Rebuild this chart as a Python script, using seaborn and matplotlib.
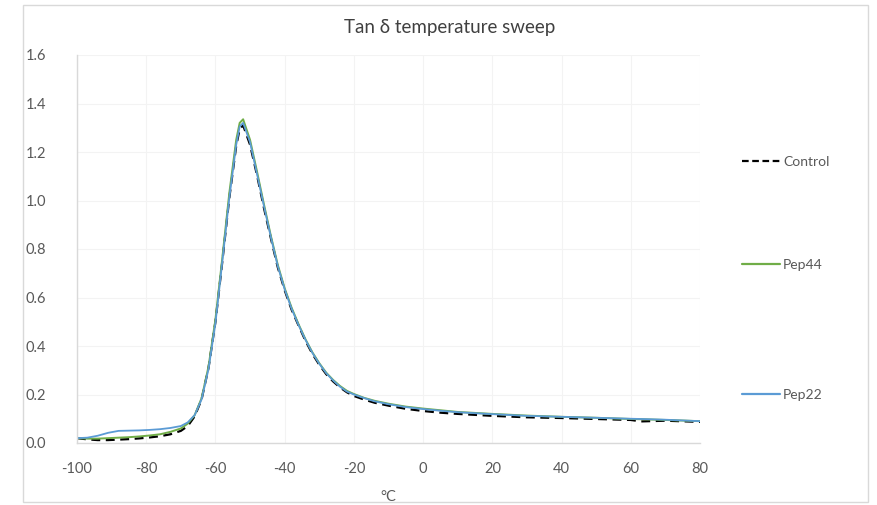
import numpy as np
import pandas as pd
import matplotlib
matplotlib.use("Agg")
import matplotlib.pyplot as plt
from matplotlib.lines import Line2D
from matplotlib.patches import Rectangle
import seaborn as sns

temperature = [-100, -97, -94, -91, -88, -85, -82, -79, -76, -73, -70, -68, -66, -64, -62,
               -60, -58, -56, -54, -53, -52, -50, -48, -46, -44, -42, -40, -38, -36, -34,
               -32, -30, -28, -26, -24, -22, -20, -17, -14, -10, -5, 0, 5, 10, 20, 30,
               40, 50, 60, 63, 70, 80]
control = [0.020, 0.015, 0.012, 0.012, 0.014, 0.016, 0.019, 0.023, 0.028, 0.036, 0.050,
           0.070, 0.110, 0.180, 0.310, 0.500, 0.750, 1.010, 1.225, 1.295, 1.310, 1.230,
           1.105, 0.970, 0.845, 0.725, 0.630, 0.550, 0.485, 0.422, 0.368, 0.323, 0.284,
           0.254, 0.229, 0.209, 0.194, 0.179, 0.166, 0.154, 0.141, 0.132, 0.125, 0.120,
           0.112, 0.106, 0.103, 0.099, 0.095, 0.089, 0.092, 0.087]
pep44 = [0.020, 0.018, 0.018, 0.020, 0.022, 0.024, 0.027, 0.031, 0.036, 0.046, 0.060,
         0.080, 0.115, 0.185, 0.315, 0.510, 0.765, 1.030, 1.250, 1.320, 1.335, 1.250,
         1.120, 0.985, 0.855, 0.735, 0.638, 0.558, 0.490, 0.428, 0.374, 0.329, 0.290,
         0.260, 0.235, 0.215, 0.202, 0.186, 0.174, 0.162, 0.150, 0.142, 0.135, 0.128,
         0.120, 0.113, 0.108, 0.104, 0.099, 0.098, 0.095, 0.090]
pep22 = [0.020, 0.022, 0.030, 0.042, 0.050, 0.051, 0.052, 0.054, 0.057, 0.062, 0.070,
         0.085, 0.115, 0.180, 0.305, 0.495, 0.750, 1.010, 1.230, 1.305, 1.320, 1.240,
         1.110, 0.978, 0.850, 0.730, 0.634, 0.554, 0.487, 0.426, 0.372, 0.327, 0.288,
         0.258, 0.232, 0.212, 0.200, 0.185, 0.172, 0.160, 0.148, 0.140, 0.133, 0.127,
         0.119, 0.112, 0.108, 0.104, 0.100, 0.099, 0.096, 0.090]

x_ticks = [-100, -80, -60, -40, -20, 0, 20, 40, 60, 80]
y_ticks = [0.0, 0.2, 0.4, 0.6, 0.8, 1.0, 1.2, 1.4, 1.6]

sns.set_theme(style="white")
plt.rcParams['font.family'] = ['Lato', 'DejaVu Sans']

fig = plt.figure(figsize=(8.77, 5.05), dpi=100)
ax = fig.add_axes([77/877, 1-443/505, (700-77)/877, (443-55)/505])

df = pd.DataFrame({"T": temperature, "Control": control, "Pep44": pep44, "Pep22": pep22})

series = [("Control", "#000000", (0, (4, 2.5)), 1.6),
          ("Pep44", "#70AD47", "-", 1.4),
          ("Pep22", "#5B9BD5", "-", 1.3)]
for name, color, ls, lw in series:
    sns.lineplot(data=df, x="T", y=name, ax=ax, color=color, linewidth=lw,
                 linestyle=ls, legend=False)

ax.set_xlim(-100, 80)
ax.set_ylim(0, 1.6)
ax.set_xticks(x_ticks)
ax.set_yticks(y_ticks)
ax.set_xticklabels([str(t) for t in x_ticks])
ax.set_yticklabels([f"{v:.1f}" for v in y_ticks])
ax.tick_params(axis='both', colors='#595959', labelsize=10.5, length=0)
ax.tick_params(axis='x', pad=14)
ax.tick_params(axis='y', pad=22)
ax.set_xlabel("°C", color='#595959', fontsize=10.5, labelpad=10)
ax.set_ylabel("")
ax.grid(True, color='#F3F3F3', linewidth=0.8)
for s in ['top', 'right']:
    ax.spines[s].set_visible(False)
for s in ['left', 'bottom']:
    ax.spines[s].set_color('#D9D9D9')
    ax.spines[s].set_linewidth(1.0)

fig.text(450/877, 1-27/505, "Tan δ temperature sweep", ha='center', va='center',
         fontsize=13.5, color='#404040')

# legend entries
leg_items = [("Control", "#000000", (0, (3, 1.6)), 162),
             ("Pep44", "#70AD47", "-", 265),
             ("Pep22", "#5B9BD5", "-", 395)]
for label, color, ls, ypx in leg_items:
    h = Line2D([], [], color=color, linestyle=ls, linewidth=1.6)
    lg = fig.legend(handles=[h], labels=[label], loc='center left',
                    bbox_to_anchor=(742/877, 1-ypx/505), frameon=False,
                    handlelength=2.7, handletextpad=0.25, fontsize=10,
                    labelcolor='#595959', borderaxespad=0, borderpad=0)

fig.patches.append(Rectangle((23/877, 3/505), (868-23)/877, (500-3)/505,
                             transform=fig.transFigure, fill=False,
                             edgecolor='#D9D9D9', linewidth=1.0))

fig.savefig("out.png", dpi=100, facecolor='white')
